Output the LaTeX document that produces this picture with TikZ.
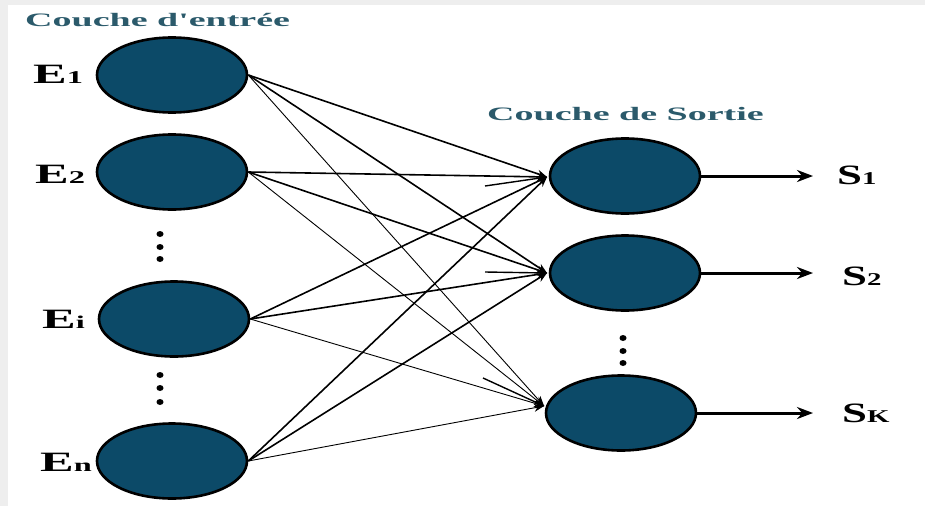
\documentclass[tikz,border=0pt]{standalone}
\usepackage{fontspec}
\usepackage{graphicx}
\setmainfont{Liberation Serif}
\usetikzlibrary{shapes.geometric,arrows.meta}
\definecolor{neuronfill}{HTML}{0C4A68}
\definecolor{titlecol}{HTML}{2B5A6B}
\definecolor{framegray}{HTML}{EEEEEE}
\newcommand{\wide}[2]{\scalebox{#1}[1]{#2}}
\begin{document}
\begin{tikzpicture}[x=1pt,y=-1pt,
  neuron/.style={ellipse,draw=black,line width=2.6pt,fill=neuronfill,minimum width=150pt,minimum height=75pt,inner sep=0pt},
  lbl/.style={anchor=base west,inner sep=0pt,font=\bfseries\fontsize{28}{28}\selectfont},
  ttl/.style={anchor=base west,inner sep=0pt,text=titlecol,font=\bfseries\fontsize{19}{19}\selectfont},
  conn/.style={line width=1.6pt,-{Stealth[length=10pt,width=8pt]}},
  thinconn/.style={line width=0.9pt,-{Stealth[length=10pt,width=8pt]}},
  stub/.style={line width=1.4pt},
  outarrow/.style={line width=3pt,-{Stealth[length=16pt,width=12pt]}},
  dotmark/.style={fill=black}
]
\useasboundingbox (0,0) rectangle (925,506);
\fill[framegray] (0,0) rectangle (8,506);
\fill[framegray] (0,0) rectangle (925,5);

% titles
\node[ttl] (t1) at (25,26) {\wide{2}{Couche d\textquotesingle entrée}};
\node[ttl] (t2) at (487,120) {\wide{2}{Couche de Sortie}};

% input neurons
\node[neuron] (E1) at (172,75) {};
\node[neuron] (E2) at (172,172) {};
\node[neuron] (Ei) at (174,319) {};
\node[neuron] (En) at (172,461) {};

% output neurons
\node[neuron] (S1) at (625,176) {};
\node[neuron] (S2) at (625,273) {};
\node[neuron] (Sk) at (621,413) {};

% labels
\node[lbl] (lE1) at (33,83) {\wide{1.8}{E{\fontsize{18}{18}\selectfont 1}}};
\node[lbl] (lE2) at (35,183) {\wide{1.8}{E{\fontsize{18}{18}\selectfont 2}}};
\node[lbl] (lEi) at (42,328) {\wide{1.8}{E{\fontsize{18}{18}\selectfont i}}};
\node[lbl] (lEn) at (40,471) {\wide{1.8}{E{\fontsize{18}{18}\selectfont n}}};
\node[lbl] (lS1) at (837,184) {\wide{1.6}{S{\fontsize{18}{18}\selectfont 1}}};
\node[lbl] (lS2) at (842,285) {\wide{1.6}{S{\fontsize{18}{18}\selectfont 2}}};
\node[lbl] (lSk) at (842,422) {\wide{1.6}{S{\fontsize{18}{18}\selectfont K}}};

% dots
\foreach \yy in {234,247,259,375,388,402} \fill[dotmark] (160,\yy) ellipse (3.5 and 3);
\foreach \yy in {338,351,363} \fill[dotmark] (623,\yy) ellipse (3.5 and 3);

% entry points
\coordinate (S1in) at (547,177);
\coordinate (S2in) at (547,273);
\coordinate (Skin) at (544,406);

% connections
\draw[conn] (E1.east) -- (S1in);
\draw[conn] (E1.east) -- (S2in);
\draw[thinconn] (E1.east) -- (Skin);
\draw[conn] (E2.east) -- (S1in);
\draw[conn] (E2.east) -- (S2in);
\draw[thinconn] (E2.east) -- (Skin);
\draw[conn] (Ei.east) -- (S1in);
\draw[conn] (Ei.east) -- (S2in);
\draw[thinconn] (Ei.east) -- (Skin);
\draw[conn] (En.east) -- (S1in);
\draw[conn] (En.east) -- (S2in);
\draw[thinconn] (En.east) -- (Skin);

% short stubs
\coordinate (st1) at (485,186);
\coordinate (st2) at (485,272);
\coordinate (st3) at (483,378);
\draw[stub] (st1) -- (S1in);
\draw[stub] (st2) -- (S2in);
\draw[stub] (st3) -- (Skin);

% outputs
\coordinate (o1) at (813,176);
\coordinate (o2) at (813,273);
\coordinate (ok) at (813,413);
\draw[outarrow] (S1.east) -- (o1);
\draw[outarrow] (S2.east) -- (o2);
\draw[outarrow] (Sk.east) -- (ok);
\end{tikzpicture}
\end{document}
